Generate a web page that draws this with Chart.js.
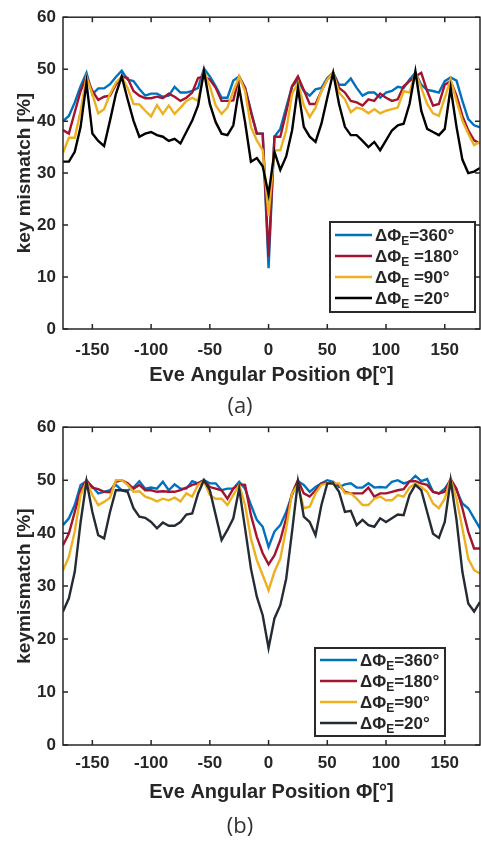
<!DOCTYPE html>
<html><head><meta charset="utf-8">
<script src="https://cdn.jsdelivr.net/npm/chart.js@4"></script>
<style>
html,body{margin:0;padding:0;background:#fff;width:481px;height:843px;overflow:hidden}
.wrap{position:absolute;left:0;width:481px}
</style></head><body>
<div class="wrap" style="top:0;height:420px"><canvas id="ca" width="481" height="420"></canvas></div>
<div class="wrap" style="top:410px;height:433px"><canvas id="cb" width="481" height="433"></canvas></div>
<script>
// ---------- DATA ----------
const angles = [
 -175,-170,-165,-160,-155,-150,-145,-140,-135,-130,-125,-120,
 -115,-110,-105,-100,-95,-90,-85,-80,-75,-70,-65,-60,
 -55,-50,-45,-40,-35,-30,-25,-20,-15,-10,-5,0,
 5,10,15,20,25,30,35,40,45,50,55,60,
 65,70,75,80,85,90,95,100,105,110,115,120,
 125,130,135,140,145,150,155,160,165,170,175,180];

const xTicks = [-150,-100,-50,0,50,100,150];
const yTicks = [0,10,20,30,40,50,60];

// (a)
const aBlue360 = [
 40,41,43.6,46.7,49.3,45.2,46.3,46.3,47.1,48.5,49.7,48,
 47.7,46.2,44.9,45.3,45.3,44.7,44.9,46.6,45.5,45.5,45.8,46.4,
 50.1,48.6,46.7,44.5,44.5,47.8,48.6,46.4,42,37.6,37.6,11.7,
 37,38.5,42.6,46.7,47.9,45.8,44.9,46.1,46.4,48.3,49.3,47,
 47,48.2,46.4,44.9,45.5,45.5,44.5,45.5,45.8,46.6,46.4,48,
 49.3,47,46,45.8,45.5,47.7,48.4,47.8,43.9,40.4,39.2,38.8];
const aRed180 = [
 38.3,37.6,41.7,45.8,48.5,45.8,44.1,44.7,44.9,47,48.6,48.3,
 45.8,44.9,44.4,44.4,44.7,44.4,45.3,44.7,43.9,44.5,45.5,48.3,
 48.6,48,46.4,43.9,43.9,44,48.5,46.4,41.7,37.6,37.6,13.9,
 37,37,41.7,46.7,48.6,46,43.3,43.3,45.8,48,49.3,46.4,
 45.5,43.9,43.6,43,44.2,43.9,45.3,44.5,43.9,44.2,46.7,47.7,
 48.6,49.3,45.8,43,43.3,47,47.7,44.9,41,38.2,36.3,35.7];
const aYellow90 = [
 33.9,36.8,36.8,42,48.5,45.2,41.5,42.3,45.2,47.4,48.6,46.4,
 43.3,43.2,42,40.9,43.1,41.4,43,41.4,42.6,43.9,44.5,43.9,
 49.6,46.7,43,41.4,42.6,45.8,48.6,45.8,38.9,36.3,34.4,21.8,
 34.4,34.4,38.2,45.2,47.4,43,40.8,42.6,45.8,48,49.3,45.5,
 44.2,41.7,42.6,42.3,41.5,42.3,41.5,42,42.3,42.6,45.8,45.5,
 49.3,46.4,43.3,41.5,41,44.5,48,43.9,40.1,37.6,35.4,36];
const aBlack20 = [
 32.2,32.2,34.1,38.9,47.4,37.6,36.2,35.2,40.1,45.2,48.6,44.2,
 40.1,37,37.6,37.9,37.3,37,36.2,36.6,35.7,37.9,40.1,43,
 49.6,43.3,39.8,37.6,37.3,39.2,46.4,39.8,32.2,32.9,31.3,25.9,
 34.1,30.6,33.2,38.2,46.4,38.9,37,36,39.5,44.5,49.3,43.3,
 38.9,37.3,37.3,36.2,35,36,34.4,36.3,38.2,39.2,39.5,43.3,
 49.6,42,38.5,37.9,37.3,38.5,46.4,38.9,32.6,30,30.3,31];

// (b)
const bBlue360 = [
 41.5,42.8,45.3,49.1,49.8,48.8,47.5,47.8,48.1,49.1,48.1,48.1,
 48.6,49.8,48.4,48.6,48.4,49.7,48.1,49.2,48.4,48.4,49.8,49.4,
 50,49.4,49.4,48.1,48.4,48.4,49.7,48.4,45.3,42.5,41.2,37.4,
 40.3,41.5,44,47.2,49.8,49.1,47.8,48.7,49.4,50,49.7,48.7,
 49.2,49.4,48.6,48.6,49.4,48.6,48.7,48.6,49.7,50,49.4,49.7,
 50.8,49.8,50.2,47.8,47.5,48.4,50,48.1,45.6,44.7,42.8,40.9];
const bRed180 = [
 37.7,39.9,44,48.1,50,48.6,48.3,47.8,47.7,49.7,50,49.4,
 48.4,49.1,48.1,48.1,47.8,47.9,47.8,47.8,48.1,48.6,49.1,49.4,
 50,48.7,48.4,48.1,46.5,48.4,49.2,49.1,43.4,39.3,36.2,34.1,
 35.8,38.7,42.8,47.5,50,47.5,46.9,48.1,49.4,49.4,49.4,49.1,
 47.8,47.5,47.5,47.5,48.6,46.9,47.5,47.5,47.8,48.1,48.3,49.8,
 49.8,49.4,49.1,47.8,47.5,47.8,50.2,48.4,44.7,40.3,37.1,37.1];
const bYellow90 = [
 33,35.5,40.3,47.2,49.7,47.2,45.3,45.9,46.7,50,50,49.1,
 47.8,47.9,46.9,46.5,46,46.5,46.2,46.7,46,47.5,46.9,49.1,
 49.8,47.2,46.5,46.5,45.3,47.2,49.1,45.3,39,34.9,32.1,29.2,
 32.7,35.2,40.9,47.5,49.1,44.7,45,47.5,49.1,49.4,49.4,49.4,
 47.5,47.5,46.5,45.3,45.3,46.5,46.9,46.2,46.2,47.2,46.9,48.6,
 49.4,48.7,47.8,45.6,44.7,46.5,50.2,46.5,40.9,35.2,33,32.4];
const bBlack20 = [
 25.2,27.7,32.7,42.1,49.8,44,39.6,39,44,48.1,48.1,47.8,
 44.7,43.1,42.9,42.1,40.9,42,41.4,41.4,42.1,43.5,43.7,47.5,
 50,48.1,43.4,38.7,40.6,42.8,48.4,40.9,33.3,28,24.5,18.3,
 23.9,26.4,31.4,40.3,49.7,43.1,42.1,39.6,45.3,49.4,49.4,47.8,
 44,44.2,41.5,42.5,41.5,41.2,42.8,42.1,42.8,43.5,43.4,47.2,
 49.1,48.1,44,39.9,39.1,42.1,50,42.5,32.7,26.7,25.2,27];

const legendA = ['ΔΦ_E=360°','ΔΦ_E =180°','ΔΦ_E =90°','ΔΦ_E =20°'];
const legendB = ['ΔΦ_E=360°','ΔΦ_E=180°','ΔΦ_E=90°','ΔΦ_E=20°'];
const xTitle = 'Eve Angular Position Φ[°]';
const yTitleA = 'key mismatch [%]';
const yTitleB = 'keymismatch [%]';

// ---------- STYLE ----------
const FONT = 'Liberation Sans, Arial, sans-serif';
const INK = '#262626';

const framePlugin = {
  id: 'frame',
  afterDatasetsDraw(chart, args, o) {
    const {ctx, chartArea: a, scales: {x, y}} = chart;
    ctx.save();
    ctx.strokeStyle = INK;
    ctx.lineWidth = 1.5;
    const L = 5;
    ctx.beginPath();
    x.ticks.forEach(t => {
      const px = x.getPixelForValue(t.value);
      ctx.moveTo(px, a.bottom); ctx.lineTo(px, a.bottom - L);
      ctx.moveTo(px, a.top); ctx.lineTo(px, a.top + L);
    });
    y.ticks.forEach(t => {
      const py = y.getPixelForValue(t.value);
      ctx.moveTo(a.left, py); ctx.lineTo(a.left + L, py);
      ctx.moveTo(a.right, py); ctx.lineTo(a.right - L, py);
    });
    ctx.stroke();
    ctx.strokeRect(a.left, a.top, a.right - a.left, a.bottom - a.top);

    // legend
    const bx = a.right - o.right - o.w, by = a.bottom - o.bottom - o.h;
    ctx.fillStyle = '#fff';
    ctx.fillRect(bx, by, o.w, o.h);
    ctx.lineWidth = 2;
    ctx.strokeStyle = '#2a2a2a';
    ctx.strokeRect(bx, by, o.w, o.h);
    chart.data.datasets.forEach((ds, i) => {
      const ry = by + o.row0 + i * o.rowH;
      ctx.strokeStyle = ds.borderColor;
      ctx.lineWidth = 2.4;
      ctx.beginPath();
      ctx.moveTo(bx + o.l0, ry); ctx.lineTo(bx + o.l1, ry);
      ctx.stroke();
      const parts = ds.label.split('_');
      let tx = bx + o.tx;
      const base = ry + 6;
      ctx.fillStyle = INK;
      ctx.textBaseline = 'alphabetic';
      ctx.textAlign = 'left';
      ctx.font = 'bold 17px ' + FONT;
      ctx.fillText(parts[0], tx, base);
      tx += ctx.measureText(parts[0]).width;
      ctx.font = 'bold 12px ' + FONT;
      const sub = parts[1].charAt(0);
      ctx.fillText(sub, tx, base + 4);
      tx += ctx.measureText(sub).width;
      ctx.font = 'bold 17px ' + FONT;
      ctx.fillText(parts[1].slice(1), tx, base);
    });
    ctx.restore();
  }
};

function makeChart(id, series, labels, colors, yTitle, cfg) {
  const datasets = series.map((vals, i) => ({
    label: labels[i],
    data: angles.map((ang, k) => ({x: ang, y: vals[k]})),
    borderColor: colors[i],
    backgroundColor: colors[i],
    borderWidth: 2.4,
    pointRadius: 0,
    tension: 0,
    fill: false,
    order: series.length - i
  }));
  const tickFont = {family: FONT, size: 17, weight: 'bold'};
  return new Chart(document.getElementById(id), {
    type: 'line',
    data: {datasets},
    plugins: [framePlugin],
    options: {
      responsive: false,
      animation: false,
      events: [],
      layout: {padding: {top: cfg.top, right: 1, left: 0, bottom: 0}},
      scales: {
        x: {
          type: 'linear', min: -175, max: 180,
          grid: {display: false, drawTicks: false},
          border: {display: false},
          afterBuildTicks: s => { s.ticks = xTicks.map(v => ({value: v})); },
          afterFit: s => { s.height = cfg.xh; },
          ticks: {font: tickFont, color: INK, padding: cfg.xpad, maxRotation: 0, autoSkip: false},
          title: {display: true, text: xTitle, color: INK,
                  font: {family: FONT, size: 20, weight: 'bold'},
                  padding: {top: 0, bottom: cfg.xtpad}}
        },
        y: {
          type: 'linear', min: 0, max: 60,
          grid: {display: false, drawTicks: false},
          border: {display: false},
          afterBuildTicks: s => { s.ticks = yTicks.map(v => ({value: v})); },
          afterFit: s => { s.width = 63; },
          ticks: {font: tickFont, color: INK, padding: 7},
          title: {display: true, text: yTitle, color: INK,
                  font: {family: FONT, size: 19, weight: 'bold'},
                  padding: {top: 13.6, bottom: 0}}
        }
      },
      plugins: {
        legend: {display: false},
        tooltip: {enabled: false},
        title: {display: true, text: cfg.panel, position: 'bottom', color: '#333',
                font: {family: 'Open Sans, Noto Sans, sans-serif', size: 22, weight: 'normal'},
                padding: {top: 0, bottom: cfg.ppad}},
        frame: cfg.legend
      }
    }
  });
}

makeChart('ca', [aBlue360, aRed180, aYellow90, aBlack20], legendA,
  ['#0072BD', '#A2142F', '#EDB120', '#000000'], yTitleA,
  {top: 12, xh: 64.6, xpad: 11, xtpad: 6.6, panel: '(a)', ppad: 0,
   legend: {right: 5, bottom: 17, w: 145, h: 90, row0: 13, rowH: 21, l0: 5, l1: 42, tx: 45}});

makeChart('cb', [bBlue360, bRed180, bYellow90, bBlack20], legendB,
  ['#0072BD', '#A2142F', '#EDB120', '#252b34'], yTitleB,
  {top: 17, xh: 68.6, xpad: 8, xtpad: 9.6, panel: '(b)', ppad: 3,
   legend: {right: 35, bottom: 9, w: 130, h: 88, row0: 12, rowH: 21, l0: 5, l1: 42, tx: 45}});
</script>
</body></html>
